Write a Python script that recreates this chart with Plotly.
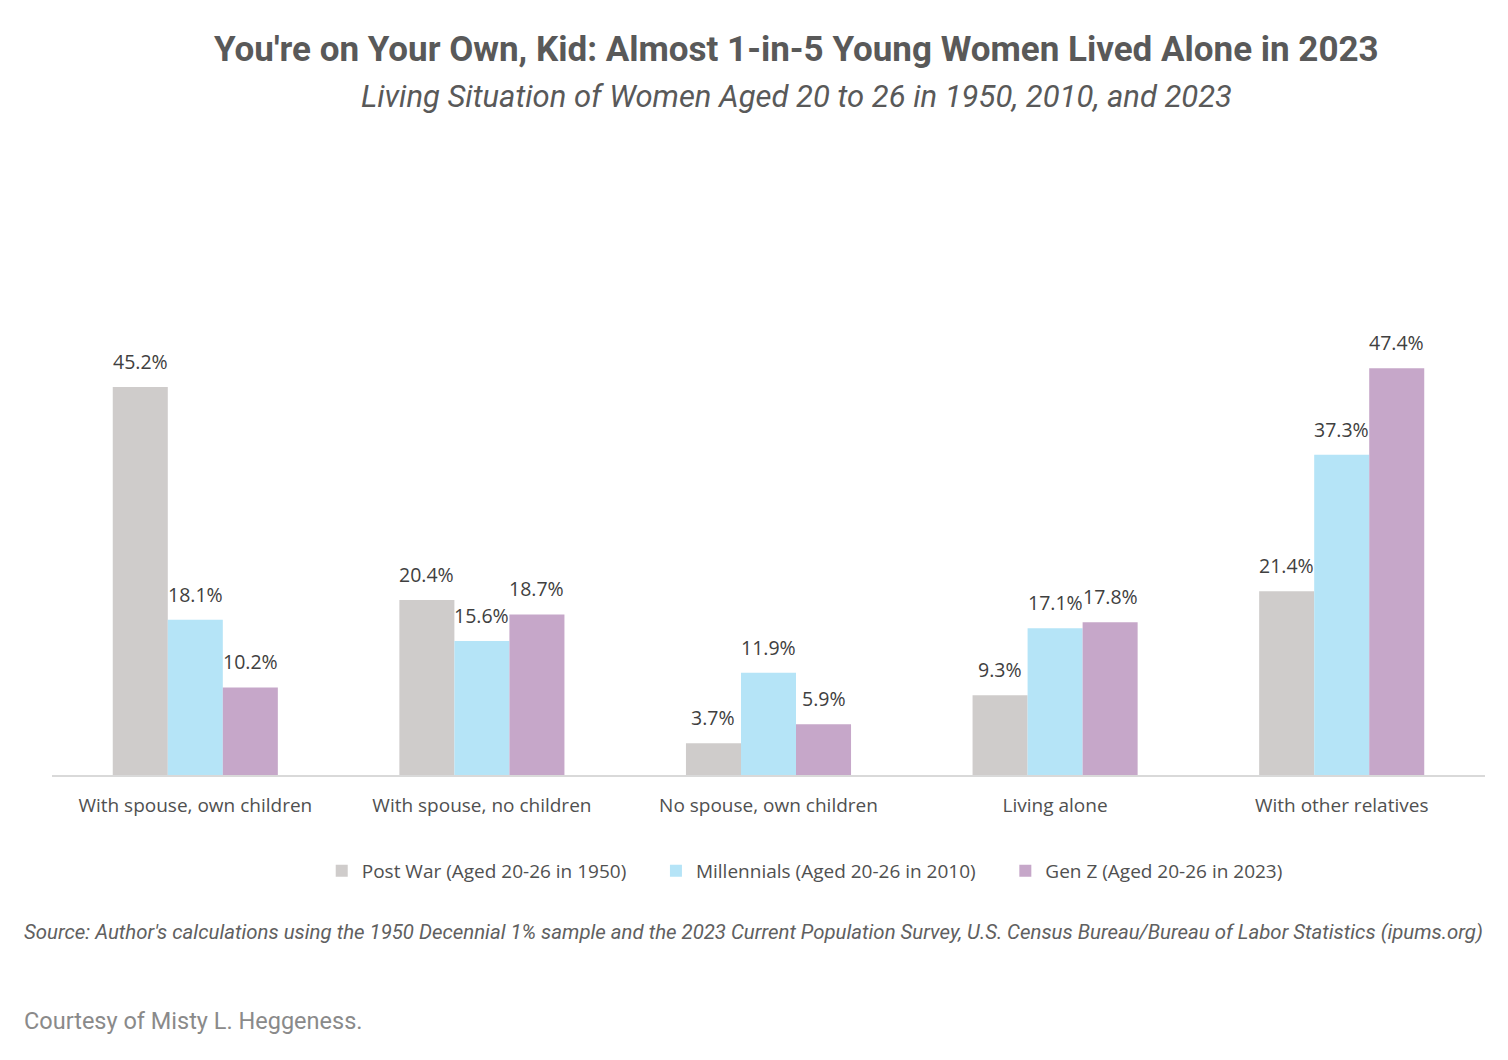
import plotly.graph_objects as go

categories = ["With spouse, own children", "With spouse, no children", "No spouse, own children",
              "Living alone", "With other relatives"]
series_names = ["Post War (Aged 20-26 in 1950)", "Millennials (Aged 20-26 in 2010)", "Gen Z (Aged 20-26 in 2023)"]
post_war = [45.2, 20.4, 3.7, 9.3, 21.4]
millennials = [18.1, 15.6, 11.9, 17.1, 37.3]
gen_z = [10.2, 18.7, 5.9, 17.8, 47.4]
colors = ["#CFCCCB", "#B5E4F7", "#C6A7C9"]

W, H = 1508, 1060
l, r, t, b = 52, 23, 260, 285
pw, ph = W - l - r, H - t - b
bargap = 0.424
bar_px = pw / len(categories) * (1 - bargap) / 3

fig = go.Figure()
for i, (name, vals, col) in enumerate(zip(series_names, [post_war, millennials, gen_z], colors)):
    fig.add_trace(go.Bar(
        x=categories, y=vals, name=name + "\u00a0" * 5, marker_color=col, marker_line_width=0,
    ))
    for c, v in zip(categories, vals):
        fig.add_annotation(x=c, y=v, xref="x", yref="y", text=f"{v:.1f}%", showarrow=False,
                           xshift=(i - 1) * bar_px, yshift=10, yanchor="bottom",
                           font=dict(family="Open Sans", size=19.5, color="#404040"))

fig.update_layout(
    width=W, height=H,
    paper_bgcolor="white", plot_bgcolor="white",
    margin=dict(l=l, r=r, t=t, b=b),
    barmode="group", bargap=bargap, bargroupgap=0,
    showlegend=True,
    legend=dict(orientation="h", x=0.534, xanchor="center", y=-0.186, yanchor="middle",
                font=dict(family="Open Sans", size=19, color="#505050"),
                itemwidth=30, tracegroupgap=0),
    xaxis=dict(showgrid=False, showline=True, linecolor="#D9D9D9", linewidth=2,
               tickfont=dict(family="Open Sans", size=19, color="#505050"), ticks="",
               ticklabelstandoff=12),
    yaxis=dict(range=[0, 60], visible=False, showgrid=False, zeroline=False),
    font=dict(family="Open Sans"),
)

def px_note(text, px, py, size, color, family="Roboto", xanchor="center"):
    fig.add_annotation(text=text, xref="paper", yref="paper",
                       x=(px - l) / pw, y=(H - b - py) / ph, xanchor=xanchor, yanchor="middle",
                       showarrow=False, font=dict(family=family, size=size, color=color))

px_note("<b>You're on Your Own, Kid: Almost 1-in-5 Young Women Lived Alone in 2023</b>",
        796, 50, 35, "#595959")
px_note("<i>Living Situation of Women Aged 20 to 26 in 1950, 2010, and 2023</i>",
        796, 96, 31, "#595959")
px_note("<i>Source: Author's calculations using the 1950 Decennial 1% sample and the 2023 Current Population Survey, U.S. Census Bureau/Bureau of Labor Statistics (ipums.org)</i>",
        753, 932, 20.4, "#606060")
px_note("Courtesy of Misty L. Heggeness.", 22, 1021, 23.5, "#8A8A8A", xanchor="left")

fig.write_html("out.html")
